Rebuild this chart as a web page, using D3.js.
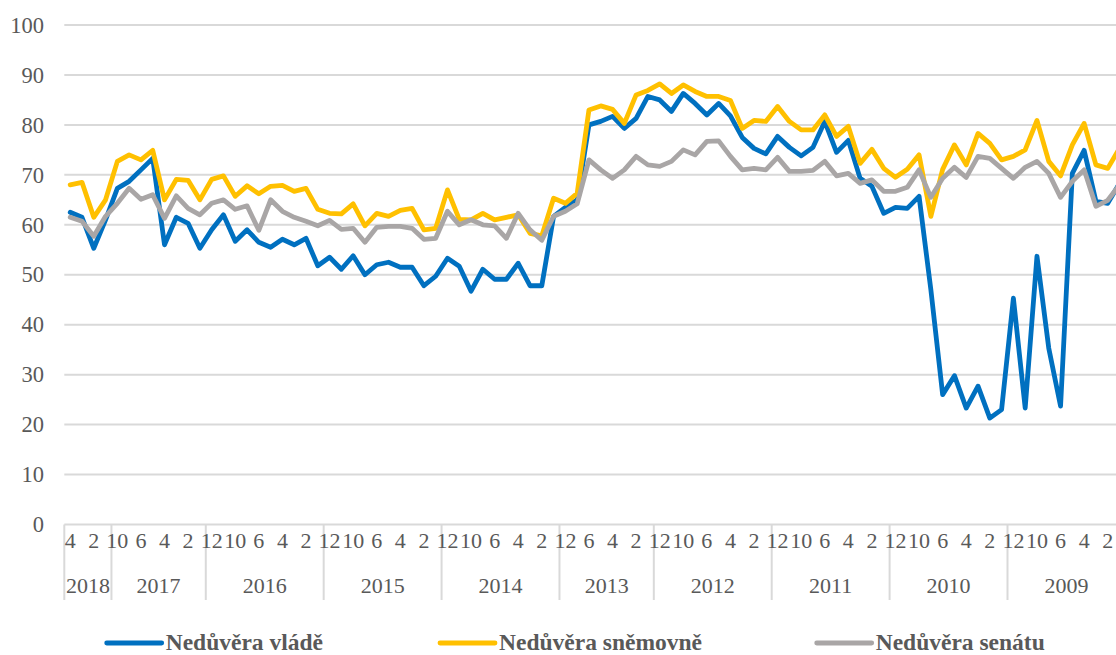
<!DOCTYPE html>
<html>
<head>
<meta charset="utf-8">
<script src="https://cdn.jsdelivr.net/npm/d3@7"></script>
<style>
  body { margin: 0; background: #fff; }
  svg text { font-family: "Liberation Serif", "Times New Roman", serif; fill: #595959; }
</style>
</head>
<body>
<svg id="chart"></svg>
<script>
"use strict";

var years = ["2018", "2017", "2016", "2015", "2014", "2013", "2012", "2011", "2010", "2009"];
var months = [
    [4, 3, 2, 1],
    [10, 9, 6, 5, 4, 3, 2, 1],
    [12, 11, 10, 9, 6, 5, 4, 3, 2, 1],
    [12, 11, 10, 9, 6, 5, 4, 3, 2, 1],
    [12, 11, 10, 9, 6, 5, 4, 3, 2, 1],
    [12, 11, 6, 5, 4, 3, 2, 1],
    [12, 11, 10, 9, 6, 5, 4, 3, 2, 1],
    [12, 11, 10, 9, 6, 5, 4, 3, 2, 1],
    [12, 11, 10, 9, 6, 5, 4, 3, 2, 1],
    [12, 11, 10, 9, 6, 5, 4, 3, 2, 1]
];
var yTicks = [0, 10, 20, 30, 40, 50, 60, 70, 80, 90, 100];

var vlada = [62.5, 61.5, 55.3, 61, 67.3, 68.7, 71, 73.3, 56, 61.5,
    60.3, 55.3, 59, 62, 56.7, 59, 56.5, 55.5, 57.1, 56,
    57.3, 51.8, 53.5, 51.1, 53.8, 50, 52, 52.5, 51.5, 51.5,
    47.8, 49.7, 53.3, 51.7, 46.7, 51.1, 49.1, 49.1, 52.3, 47.8,
    47.8, 61.7, 63.5, 65, 80, 80.7, 81.7, 79.3, 81.3, 85.7,
    85, 82.7, 86.3, 84.3, 82, 84.3, 81.8, 77.5, 75.3, 74.2,
    77.7, 75.5, 73.8, 75.5, 80.7, 74.5, 76.9, 69.3, 67.7, 62.3,
    63.5, 63.3, 65.7, 47, 26, 29.8, 23.3, 27.7, 21.3, 23,
    45.3, 23.3, 53.7, 35.3, 23.7, 70.3, 74.9, 64.7, 64.3, 68.3];

var snemovna = [68, 68.5, 61.5, 65, 72.7, 74, 73, 74.9, 65, 69.1,
    68.9, 65, 69.1, 69.8, 65.7, 67.8, 66.2, 67.7, 67.9, 66.7,
    67.3, 63.1, 62.3, 62.2, 64.2, 59.8, 62.3, 61.7, 62.9, 63.3,
    59, 59.3, 67, 61.1, 61, 62.3, 61, 61.5, 62, 58.3,
    57.8, 65.3, 64.3, 66.3, 83, 83.8, 83.1, 80.3, 86, 86.9,
    88.2, 86.3, 88, 86.7, 85.7, 85.7, 84.9, 79.3, 80.9, 80.7,
    83.7, 80.7, 79, 79, 82, 77.7, 79.7, 72.3, 75.1, 71.3,
    69.5, 71.1, 74, 61.7, 71.1, 76, 72, 78.3, 76.3, 73,
    73.7, 75, 80.9, 72.7, 69.8, 76, 80.3, 72, 71.3, 75.3];

var senat = [61.5, 60.7, 57.7, 61.7, 64.3, 67.3, 65.1, 66, 61.3, 65.8,
    63.3, 62, 64.3, 65, 63.1, 63.8, 58.9, 65, 62.7, 61.5,
    60.7, 59.8, 60.9, 59.1, 59.3, 56.5, 59.5, 59.7, 59.7, 59.3,
    57.1, 57.3, 62.7, 60, 61, 60, 59.8, 57.3, 62.3, 59,
    56.9, 61.7, 62.7, 64.2, 73, 71, 69.3, 71, 73.7, 72,
    71.7, 72.7, 75, 74, 76.7, 76.8, 73.7, 71, 71.3, 71,
    73.5, 70.7, 70.7, 70.9, 72.7, 69.8, 70.3, 68.3, 69, 66.7,
    66.7, 67.5, 71, 65.5, 69.3, 71.5, 69.5, 73.7, 73.3, 71.3,
    69.3, 71.5, 72.7, 70.3, 65.5, 68.7, 71, 63.7, 64.9, 68];

var seriesNames = ["Nedůvěra vládě", "Nedůvěra sněmovně", "Nedůvěra senátu"];
var seriesColors = ["#0070C0", "#FFC000", "#A9A6A6"];

var width = 1116,
    height = 655,
    left = 64.3,
    step = 11.79;

var categories = [];
years.forEach(function (yr, yi) {
    months[yi].forEach(function (m) {
        categories.push({ year: yr, month: m, key: yr + "-" + m });
    });
});
var keys = categories.map(function (d) { return d.key; });

var x = d3.scaleBand()
    .domain(keys)
    .range([left, left + keys.length * step])
    .padding(0);

var y = d3.scaleLinear()
    .domain([0, 100])
    .range([524.5, 25]);

var svg = d3.select("#chart")
    .attr("width", width)
    .attr("height", height);

// gridlines
svg.append("g")
    .selectAll("line")
    .data(yTicks)
    .enter()
    .append("line")
    .attr("x1", left)
    .attr("x2", width)
    .attr("y1", function (d) { return y(d); })
    .attr("y2", function (d) { return y(d); })
    .attr("stroke", "#D9D9D9")
    .attr("stroke-width", 2);

var yAxis = svg.append("g")
    .attr("transform", "translate(44,0)")
    .call(d3.axisLeft(y).tickValues(yTicks).tickSize(0).tickPadding(0));
yAxis.select(".domain").remove();
yAxis.selectAll("text")
    .attr("font-size", 22.5)
    .attr("font-family", null)
    .attr("fill", null);

// year separators
var yearStarts = years.map(function (yr, yi) {
    return x(yr + "-" + months[yi][0]);
});
svg.append("g")
    .selectAll("line")
    .data(yearStarts)
    .enter()
    .append("line")
    .attr("x1", function (d) { return d; })
    .attr("x2", function (d) { return d; })
    .attr("y1", y(0))
    .attr("y2", 600)
    .attr("stroke", "#D9D9D9")
    .attr("stroke-width", 2);

var xAxis = svg.append("g")
    .attr("transform", "translate(0,532)")
    .call(d3.axisBottom(x)
        .tickValues(keys.filter(function (d, i) { return i % 2 === 0; }))
        .tickFormat(function (k) { return k.split("-")[1]; })
        .tickSize(0)
        .tickPadding(0));
xAxis.select(".domain").remove();
xAxis.selectAll("text")
    .attr("font-size", 22)
    .attr("font-family", null)
    .attr("fill", null)
    .attr("dy", "0.71em");

svg.append("g")
    .selectAll("text")
    .data(years)
    .enter()
    .append("text")
    .attr("x", function (yr, yi) {
        var first = x(yr + "-" + months[yi][0]);
        return first + months[yi].length * x.bandwidth() / 2;
    })
    .attr("y", 593)
    .attr("text-anchor", "middle")
    .attr("font-size", 22)
    .text(function (d) { return d; });

var line = d3.line()
    .x(function (d, i) { return x(keys[i]) + x.bandwidth() / 2; })
    .y(function (d) { return y(d); });

svg.append("g")
    .selectAll("path")
    .data([vlada, snemovna, senat])
    .enter()
    .append("path")
    .attr("d", line)
    .attr("fill", "none")
    .attr("stroke", function (d, i) { return seriesColors[i]; })
    .attr("stroke-width", 4.8)
    .attr("stroke-linejoin", "round")
    .attr("stroke-linecap", "round");

// legend
var legendX = [106.7, 440, 816.7];
var legend = svg.append("g")
    .selectAll("g")
    .data(seriesNames)
    .enter()
    .append("g")
    .attr("transform", function (d, i) { return "translate(" + legendX[i] + ",643)"; });

legend.append("line")
    .attr("x1", 0)
    .attr("x2", 55)
    .attr("stroke", function (d, i) { return seriesColors[i]; })
    .attr("stroke-width", 4.8)
    .attr("stroke-linecap", "round");

legend.append("text")
    .attr("x", 59)
    .attr("y", 7)
    .attr("font-size", 23.5)
    .attr("font-weight", "bold")
    .text(function (d) { return d; });
</script>
</body>
</html>
